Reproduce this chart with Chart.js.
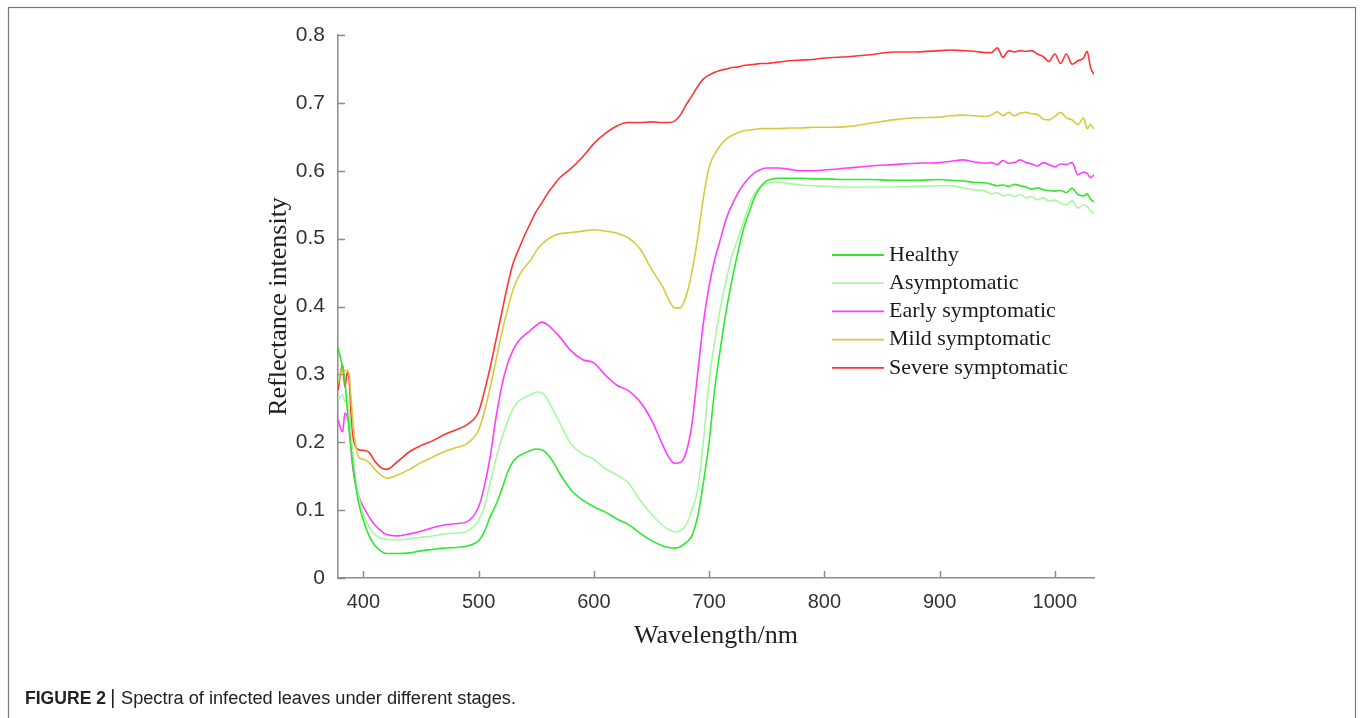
<!DOCTYPE html>
<html><head><meta charset="utf-8">
<script src="https://cdn.jsdelivr.net/npm/chart.js@4.4.0/dist/chart.umd.min.js"></script>
<style>html,body{margin:0;padding:0;background:#fff;}canvas{display:block;}</style>
</head><body>
<canvas id="c" width="1360" height="718"></canvas>
<script>
const wavelengths = [378,382,384,386,388,390,393,396,400,
  405,410,415,420,
  430,440,450,460,470,480,490,500,
  505,510,515,520,525,530,535,540,545,550,555,560,565,570,
  580,590,600,610,620,630,640,650,660,
  665,670,675,680,685,690,695,700,705,710,715,720,725,730,735,740,745,750,755,760,
  770,780,790,800,
  820,840,860,880,900,
  910,920,930,940,945,950,955,960,965,970,975,980,985,990,995,1000,
  1005,1010,1015,1020,1025,1028,1031,1034];

const healthy = [0.34,0.31,0.29,0.25,0.21,0.18,0.14,0.11,0.085,
  0.062,0.048,0.040,0.036,
  0.036,0.037,0.040,0.042,0.044,0.045,0.047,0.055,
  0.068,0.09,0.108,0.13,0.155,0.172,0.180,0.184,0.188,0.190,0.189,0.182,0.170,0.155,
  0.130,0.115,0.105,0.097,0.087,0.079,0.066,0.055,0.047,
  0.045,0.044,0.046,0.052,0.062,0.09,0.14,0.20,0.28,0.34,0.395,0.44,0.48,0.515,0.54,0.563,0.577,0.585,0.588,0.589,
  0.589,0.589,0.588,0.588,
  0.587,0.587,0.586,0.586,0.587,
  0.586,0.585,0.583,0.582,0.580,0.578,0.579,0.577,0.580,0.578,0.576,0.573,0.575,0.572,0.571,0.570,
  0.571,0.568,0.574,0.565,0.563,0.566,0.558,0.554];

const asymptomatic = [0.262,0.27,0.26,0.265,0.24,0.20,0.15,0.12,0.095,
  0.075,0.064,0.059,0.057,
  0.056,0.058,0.060,0.062,0.065,0.066,0.069,0.085,
  0.105,0.14,0.175,0.205,0.23,0.25,0.261,0.266,0.27,0.274,0.273,0.262,0.247,0.23,
  0.198,0.183,0.175,0.161,0.152,0.140,0.115,0.094,0.077,
  0.071,0.068,0.070,0.078,0.10,0.13,0.20,0.29,0.35,0.40,0.44,0.475,0.50,0.525,0.55,0.568,0.577,0.581,0.583,0.583,
  0.581,0.579,0.578,0.577,
  0.576,0.576,0.576,0.577,0.578,
  0.578,0.575,0.572,0.570,0.566,0.568,0.563,0.565,0.562,0.565,0.560,0.562,0.557,0.560,0.555,0.557,
  0.552,0.550,0.556,0.545,0.550,0.547,0.541,0.537];

const earlySymptomatic = [0.233,0.215,0.243,0.238,0.225,0.175,0.14,0.12,0.105,
  0.09,0.078,0.070,0.064,
  0.062,0.065,0.069,0.074,0.078,0.080,0.083,0.105,
  0.135,0.178,0.235,0.282,0.315,0.336,0.35,0.358,0.365,0.372,0.377,0.373,0.365,0.356,
  0.335,0.322,0.317,0.299,0.284,0.276,0.26,0.233,0.195,
  0.178,0.169,0.170,0.185,0.225,0.30,0.375,0.43,0.47,0.50,0.53,0.55,0.567,0.58,0.59,0.598,0.602,0.604,0.604,0.604,
  0.602,0.600,0.600,0.601,
  0.604,0.607,0.609,0.611,0.612,
  0.614,0.616,0.613,0.611,0.612,0.609,0.615,0.611,0.612,0.616,0.612,0.610,0.607,0.612,0.609,0.606,
  0.610,0.609,0.612,0.594,0.598,0.596,0.590,0.594];

const mildSymptomatic = [0.287,0.309,0.305,0.306,0.295,0.25,0.20,0.178,0.175,
  0.17,0.16,0.152,0.147,
  0.152,0.160,0.170,0.178,0.186,0.192,0.198,0.218,
  0.245,0.28,0.32,0.36,0.395,0.425,0.445,0.458,0.468,0.482,0.492,0.499,0.504,0.507,
  0.509,0.511,0.513,0.511,0.508,0.501,0.485,0.455,0.428,
  0.41,0.398,0.398,0.415,0.45,0.50,0.56,0.605,0.625,0.638,0.647,0.652,0.656,0.659,0.660,0.661,0.662,0.662,0.662,0.662,
  0.663,0.663,0.664,0.664,
  0.665,0.670,0.675,0.678,0.679,
  0.681,0.682,0.681,0.680,0.682,0.687,0.681,0.686,0.681,0.685,0.686,0.684,0.683,0.676,0.675,0.680,
  0.686,0.678,0.675,0.668,0.678,0.662,0.668,0.661];

const severeSymptomatic = [0.277,0.314,0.281,0.303,0.285,0.22,0.195,0.189,0.188,
  0.185,0.172,0.163,0.16,
  0.172,0.186,0.195,0.202,0.211,0.218,0.226,0.245,
  0.275,0.31,0.35,0.39,0.43,0.464,0.485,0.505,0.523,0.54,0.553,0.567,0.578,0.589,
  0.603,0.62,0.64,0.655,0.666,0.671,0.671,0.672,0.671,
  0.671,0.673,0.682,0.697,0.71,0.724,0.735,0.741,0.745,0.748,0.750,0.752,0.753,0.755,0.756,0.757,0.758,0.758,0.759,0.760,
  0.762,0.763,0.764,0.766,
  0.768,0.771,0.775,0.775,0.777,
  0.778,0.777,0.776,0.774,0.774,0.781,0.767,0.777,0.775,0.777,0.776,0.777,0.772,0.768,0.761,0.772,
  0.758,0.772,0.757,0.762,0.766,0.776,0.752,0.742];

const seriesNames = ['Healthy','Asymptomatic','Early symptomatic','Mild symptomatic','Severe symptomatic'];
const seriesColors = ['#2fe82f','#a9f7a3','#ff3dff','#d6cb3c','#ff3434'];
const xTicks = [400,500,600,700,800,900,1000];
const xTickLabels = ['400','500','600','700','800','900','1000'];
const yTicks = [0,0.1,0.2,0.3,0.4,0.5,0.6,0.7,0.8];
const yTickLabels = ['0','0.1','0.2','0.3','0.4','0.5','0.6','0.7','0.8'];
const xTitle = 'Wavelength/nm';
const yTitle = 'Reflectance intensity';
const captionBold = 'FIGURE 2';
const captionText = 'Spectra of infected leaves under different stages.';

const axisColor = '#8c8c8c';
const sansFont = '"Liberation Sans", Arial, sans-serif';
const serifFont = '"Liberation Serif", "Times New Roman", serif';

const seriesValues = [healthy, asymptomatic, earlySymptomatic, mildSymptomatic, severeSymptomatic];
const datasets = seriesValues.map((vals, i) => ({
  label: seriesNames[i],
  data: vals.map((v, j) => ({x: wavelengths[j], y: v})),
  borderColor: seriesColors[i],
  backgroundColor: seriesColors[i],
  borderWidth: 1.6,
  pointRadius: 0,
  tension: 0.4,
  cubicInterpolationMode: 'monotone',
  fill: false
}));

const tickMarks = {
  id: 'tickMarks',
  beforeDatasetsDraw(chart) {
    const {ctx, scales: {x, y}, chartArea: a} = chart;
    ctx.save();
    ctx.strokeStyle = axisColor;
    ctx.lineWidth = 1.5;
    ctx.beginPath();
    x.ticks.forEach(t => {
      const px = Math.round(x.getPixelForValue(t.value)) + 0.5;
      ctx.moveTo(px, a.bottom); ctx.lineTo(px, a.bottom - 7);
    });
    y.ticks.forEach(t => {
      const py = Math.round(y.getPixelForValue(t.value)) + 0.5;
      ctx.moveTo(a.left, py); ctx.lineTo(a.left + 7, py);
    });
    ctx.stroke();
    ctx.restore();
  }
};

const customLegend = {
  id: 'customLegend',
  afterDraw(chart) {
    const ctx = chart.ctx;
    ctx.save();
    ctx.font = '22px ' + serifFont;
    ctx.textBaseline = 'middle';
    ctx.textAlign = 'left';
    chart.data.datasets.forEach((ds, i) => {
      const yy = 255 + i * 28.2;
      ctx.strokeStyle = ds.borderColor;
      ctx.lineWidth = 1.8;
      ctx.beginPath(); ctx.moveTo(832, yy); ctx.lineTo(884, yy); ctx.stroke();
      ctx.fillStyle = '#1a1a1a';
      ctx.fillText(ds.label, 889, yy);
    });
    ctx.restore();
  }
};

function drawFit(ctx, text, font, x, y, w) {
  ctx.font = font;
  const nat = ctx.measureText(text).width;
  ctx.save();
  ctx.translate(x, y);
  ctx.scale(w / nat, 1);
  ctx.fillText(text, 0, 0);
  ctx.restore();
}

const frameCaption = {
  id: 'frameCaption',
  afterDraw(chart) {
    const ctx = chart.ctx;
    ctx.save();
    ctx.strokeStyle = '#7a7a7a';
    ctx.lineWidth = 1.2;
    ctx.strokeRect(8.5, 7.5, 1347, 760);
    ctx.fillStyle = '#222';
    ctx.textBaseline = 'alphabetic';
    drawFit(ctx, captionBold, 'bold 18px ' + sansFont, 25, 704, 81);
    ctx.fillRect(112, 689, 1.6, 19);
    drawFit(ctx, captionText, '18px ' + sansFont, 121, 704, 395);
    ctx.restore();
  }
};

new Chart(document.getElementById('c'), {
  type: 'line',
  data: {datasets},
  options: {
    responsive: false,
    animation: false,
    devicePixelRatio: 1,
    layout: {padding: {left: 0, right: 266, top: 35, bottom: 0}},
    plugins: {legend: {display: false}, tooltip: {enabled: false}},
    scales: {
      x: {
        type: 'linear', min: 378, max: 1034,
        afterBuildTicks: s => { s.ticks = xTicks.map(v => ({value: v})); },
        afterFit: s => { s.height = 140; },
        grid: {display: false, drawTicks: false},
        border: {display: true, color: axisColor, width: 1.5},
        ticks: {font: {family: sansFont, size: 20}, color: '#333', padding: 12, maxRotation: 0, autoSkip: false,
                callback: (v, i) => xTickLabels[i]},
        title: {display: true, text: xTitle, font: {family: serifFont, size: 26}, color: '#222', padding: {top: 0, bottom: 66}}
      },
      y: {
        type: 'linear', min: 0, max: 0.8,
        afterBuildTicks: s => { s.ticks = yTicks.map(v => ({value: v})); },
        afterFit: s => { s.width = 338; },
        grid: {display: false, drawTicks: false},
        border: {display: true, color: axisColor, width: 1.5},
        ticks: {font: {family: sansFont, size: 21}, color: '#333', padding: 13,
                callback: (v, i) => yTickLabels[i]},
        title: {display: true, text: yTitle, font: {family: serifFont, size: 26}, color: '#222', padding: {top: 264, bottom: 0}}
      }
    }
  },
  plugins: [tickMarks, customLegend, frameCaption]
});
</script>
</body></html>
